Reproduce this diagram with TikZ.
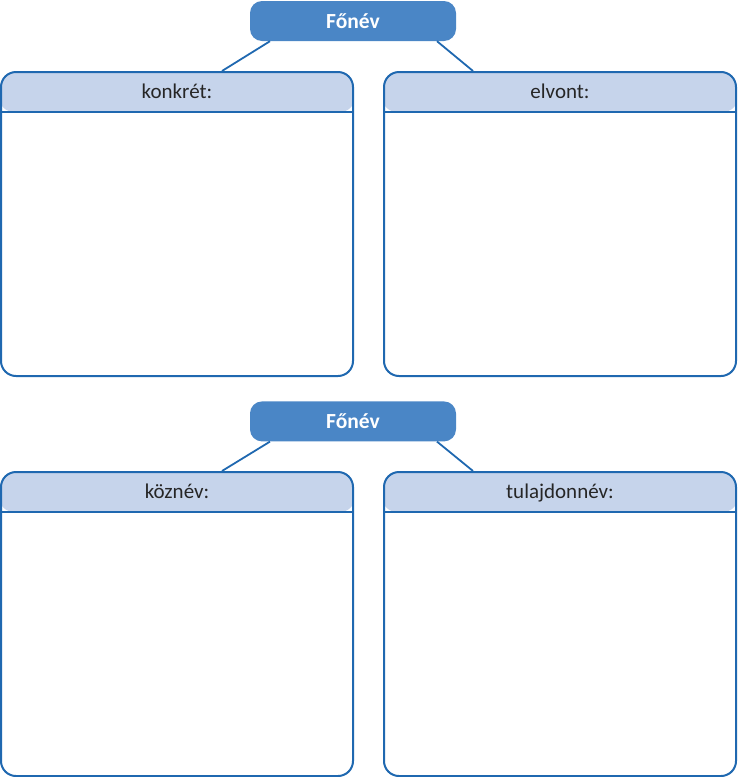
\documentclass[tikz,border=0pt]{standalone}
\usepackage{fontspec}
\setmainfont{Carlito}
\usetikzlibrary{positioning}
\definecolor{titleblue}{HTML}{4A86C6}
\definecolor{headblue}{HTML}{C6D4EB}
\definecolor{lineblue}{HTML}{1F68B0}

\begin{document}
\begin{tikzpicture}[
    x=1pt, y=1pt,
    font=\fontsize{21}{25}\selectfont,
    title/.style={
		rectangle,
		rounded corners=12pt,
		fill=titleblue,
		text=white,
		font=\fontsize{21.5}{25}\selectfont\bfseries,
		minimum height=40pt,
		minimum width=206pt,
		inner sep=0pt
	},
	box/.style={
		rectangle,
		rounded corners=15pt,
		draw=lineblue,
		line width=2pt,
		minimum height=304pt,
		minimum width=352pt,
		inner sep=0pt,
		path picture={
		  \fill[headblue] ([xshift=-2pt,yshift=2pt]path picture bounding box.north west) rectangle ([xshift=2pt,yshift=-40pt]path picture bounding box.north east);
		  \draw[lineblue, line width=2pt] ([xshift=-2pt,yshift=-40pt]path picture bounding box.north west) -- ([xshift=2pt,yshift=-40pt]path picture bounding box.north east);
		}
	},
	head/.style={
		anchor=base,
		yshift=-27pt,
		inner sep=0pt,
		text=black!85
	},
	link/.style={
		draw=lineblue,
		line width=1.8pt
	}
  ]

\useasboundingbox (0,0) rectangle (737,-777);

% // first tree
\node [title] (fonev1) at (353,-21) {Főnév};
\node [box] (konkret) at (177,-224) {};
\node [box, right=29pt of konkret] (elvont) {};
\node [head] at (konkret.north) {konkrét:};
\node [head] at (elvont.north) {elvont:};

\draw [link] ([xshift=-83pt]fonev1.south) -- ([xshift=45pt]konkret.north);
\draw [link] ([xshift=84pt]fonev1.south) -- ([xshift=-87pt]elvont.north);

% // second tree
\node [title, below=360pt of fonev1] (fonev2) {Főnév};
\node [box] (kozn) at ([yshift=-400pt]konkret.center) {};
\node [box, right=29pt of kozn] (tulajd) {};
\node [head] at (kozn.north) {köznév:};
\node [head] at (tulajd.north) {tulajdonnév:};

\draw [link] ([xshift=-83pt]fonev2.south) -- ([xshift=45pt]kozn.north);
\draw [link] ([xshift=84pt]fonev2.south) -- ([xshift=-87pt]tulajd.north);

\end{tikzpicture}
\end{document}
